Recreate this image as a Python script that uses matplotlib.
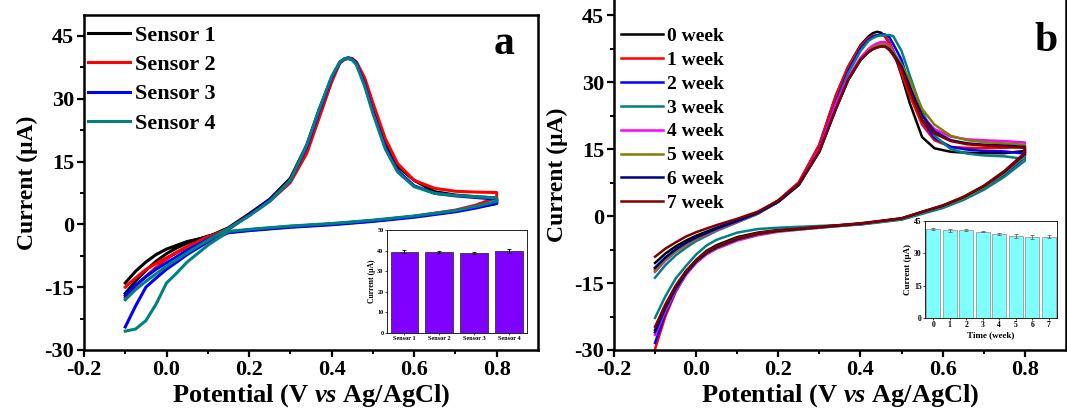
import matplotlib
matplotlib.use("Agg")
import matplotlib.pyplot as plt

plt.rcParams['font.family'] = ['Liberation Serif', 'DejaVu Serif']
plt.rcParams['font.weight'] = 'bold'
plt.rcParams['axes.unicode_minus'] = False
plt.rcParams['mathtext.fontset'] = 'custom'
plt.rcParams['mathtext.it'] = 'Liberation Serif:italic:bold'
plt.rcParams['mathtext.rm'] = 'Liberation Serif:bold'

# ---------------- panel a: CV of four sensors ----------------
va_fwd = [-0.1, -0.075, -0.05, -0.025, 0.0, 0.05, 0.1, 0.15, 0.2, 0.25, 0.3, 0.34,
          0.37, 0.40, 0.42, 0.43, 0.44, 0.45, 0.46, 0.48, 0.50, 0.53, 0.56, 0.60, 0.65,
          0.70, 0.75, 0.80]
va_rev = [0.8, 0.75, 0.7, 0.6, 0.5, 0.4, 0.3, 0.2, 0.15, 0.1, 0.05, 0.025, 0.0,
          -0.025, -0.05, -0.075, -0.1]

s1_fwd = [-14, -11.2, -9, -7.2, -5.9, -4.1, -3.0, -0.8, 2.5, 6, 11, 19, 27.5, 35, 38.7, 39.4,
          39.6, 39.3, 38.3, 33.5, 27.5, 19.5, 13.8, 10.5, 7.8, 7.0, 6.6, 6.3]
s1_rev = [5.0, 4.1, 3.2, 1.9, 0.9, 0.1, -0.5, -1.3, -1.8, -2.8, -4.5, -5.6, -7.0,
          -8.8, -11.0, -13.5, -16.5]
s2_fwd = [-15, -12.8, -10.8, -9.3, -8, -5.5, -3.1, -1.0, 2.2, 5.5, 10, 17, 25.5, 34, 38.5, 39.3,
          39.7, 39.6, 38.8, 35, 29, 20.5, 14.5, 10.5, 8.6, 7.9, 7.7, 7.6]
s2_rev = [6.5, 4.6, 3.4, 1.9, 0.8, 0.0, -0.6, -1.4, -1.9, -3.0, -5.3, -6.6, -8.3,
          -10.3, -12.4, -14.8, -17.5]
s3_fwd = [-17, -14.5, -12.5, -10.7, -9.2, -6.2, -3.6, -1.2, 2.2, 5.8, 10.5, 18.5, 27, 35, 38.7, 39.5,
          39.8, 39.5, 38.5, 33.5, 27, 18.5, 12.8, 9.2, 7.4, 6.8, 6.4, 6.0]
s3_rev = [5.0, 3.9, 3.0, 1.7, 0.7, -0.1, -0.7, -1.5, -2.0, -4.2, -7.2, -9.0, -10.7,
          -12.8, -15.0, -19.5, -24.5]
s4_fwd = [-18, -15.6, -13.6, -11.8, -10.0, -6.8, -3.8, -1.0, 2.0, 5.5, 10.5, 19, 27.5, 35.3, 38.8, 39.5,
          39.7, 39.3, 38.2, 33, 26.5, 18, 12.5, 9.0, 7.4, 6.9, 6.6, 6.3]
s4_rev = [5.5, 4.3, 3.3, 2.0, 1.0, 0.2, -0.4, -1.2, -1.7, -5.0, -9.0, -11.6, -14.0,
          -19.0, -23.0, -25.0, -25.5]

sensor_labels = ['Sensor 1', 'Sensor 2', 'Sensor 3', 'Sensor 4']
sensor_colors = ['black', '#ff0000', '#0000ff', '#008080']

# inset a
sensor_names = ['Sensor 1', 'Sensor 2', 'Sensor 3', 'Sensor 4']
sensor_peak = [39.5, 39.4, 39.0, 39.8]
sensor_err = [0.7, 0.6, 0.5, 0.8]

# ---------------- panel b: CV over eight weeks ----------------
vb_fwd = [-0.1, -0.075, -0.05, -0.025, 0.0, 0.05, 0.1, 0.15, 0.2, 0.25, 0.3, 0.34, 0.37,
          0.40, 0.42, 0.43, 0.44, 0.45, 0.46, 0.47, 0.48, 0.50, 0.52, 0.55, 0.58, 0.62,
          0.66, 0.70, 0.75, 0.80]
vb_rev = [0.8, 0.75, 0.7, 0.65, 0.6, 0.55, 0.5, 0.4, 0.3, 0.2, 0.15, 0.1, 0.05, 0.025,
          0.0, -0.025, -0.05, -0.075, -0.1]

w0_fwd = [-10.5, -8.4, -6.8, -5.5, -4.4, -2.6, -1.0, 0.8, 3.5, 7.5, 16, 27, 33.5, 38.3, 40.3, 41.0,
          41.3, 41.1, 40.2, 38.8, 37, 31.5, 25.3, 17.7, 15.2, 14.4, 14.2, 14.1, 14.1, 14.6]
w1_fwd = [-12.0, -9.6, -7.7, -6.2, -5.0, -3.0, -1.2, 0.7, 3.5, 7.6, 16, 27, 33.5, 38, 40, 40.4,
          40.5, 40.6, 40.3, 39.0, 37, 32, 27, 20.5, 17.0, 15.5, 15.3, 15.2, 15.3, 15.5]
w2_fwd = [-11.6, -9.3, -7.5, -6.0, -4.9, -2.9, -1.2, 0.6, 3.3, 7.2, 15, 25.5, 32.5, 37.5, 39.6, 40.2,
          40.5, 40.7, 40.7, 40.1, 38.5, 35, 29, 21.5, 17.5, 15.5, 14.9, 14.6, 14.5, 14.0]
w3_fwd = [-13.8, -11.0, -8.8, -7.1, -5.6, -3.3, -1.4, 0.5, 3.2, 7.0, 14.5, 25, 32, 37, 39.3, 39.9,
          40.3, 40.5, 40.5, 40.6, 40.3, 37, 31.5, 23.5, 18.0, 15.0, 14.0, 13.6, 13.4, 12.8]
w4_fwd = [-12.5, -10.0, -8.0, -6.5, -5.2, -3.1, -1.3, 0.6, 3.3, 7.2, 15, 25, 31, 35.5, 37.5, 38.2,
          38.7, 39.0, 39.0, 38.3, 37, 33, 28.5, 22.5, 19.5, 17.8, 17.2, 17.0, 16.8, 16.5]
w5_fwd = [-12.3, -9.8, -7.9, -6.4, -5.1, -3.0, -1.2, 0.6, 3.2, 7.0, 14.5, 24, 30.5, 35, 37, 37.7,
          38.2, 38.5, 38.5, 38.0, 36.8, 34, 30.5, 24, 20.5, 18.0, 17.0, 16.6, 16.3, 16.0]
w6_fwd = [-11.6, -9.3, -7.5, -6.0, -4.8, -2.8, -1.1, 0.7, 3.2, 7.0, 14.5, 24, 30.5, 35, 36.8, 37.4,
          37.8, 38.0, 38.0, 37.4, 36.3, 33.5, 29, 22.5, 19.0, 17.0, 16.3, 16.0, 15.8, 15.5]
w7_fwd = [-9.1, -7.3, -5.9, -4.6, -3.6, -2.0, -0.6, 1.0, 3.5, 7.2, 14.5, 24, 30.5, 35, 36.8, 37.4,
          37.8, 38.0, 38.0, 37.2, 36.0, 33, 28, 21.5, 18.5, 16.8, 16.1, 15.8, 15.6, 15.3]

w0_rev = [13.5, 9.6, 6.5, 4.0, 2.2, 0.8, -0.6, -1.7, -2.4, -3.1, -3.7, -4.7, -6.5, -7.8,
          -9.8, -12.5, -16.0, -20.5, -25.5]
w1_rev = [13.8, 9.8, 6.6, 4.1, 2.3, 0.9, -0.6, -1.7, -2.4, -3.2, -3.9, -5.0, -6.9, -8.2,
          -10.2, -13.0, -17.0, -22.5, -29.8]
w2_rev = [13.2, 9.3, 6.3, 3.9, 2.1, 0.7, -0.7, -1.8, -2.5, -3.3, -4.0, -5.1, -7.0, -8.3,
          -10.3, -13.0, -16.8, -21.8, -28.4]
w3_rev = [12.4, 8.8, 5.9, 3.6, 1.8, 0.5, -0.8, -1.9, -2.2, -2.6, -2.9, -3.7, -5.3, -6.6,
          -8.6, -11.2, -14.0, -18.0, -22.8]
w4_rev = [13.6, 9.7, 6.6, 4.1, 2.3, 0.9, -0.5, -1.8, -2.6, -3.5, -4.3, -5.5, -7.3, -8.6,
          -10.5, -13.2, -16.8, -21.3, -26.6]
w5_rev = [13.5, 9.6, 6.5, 4.0, 2.2, 0.8, -0.6, -1.8, -2.6, -3.4, -4.1, -5.3, -7.1, -8.4,
          -10.3, -12.9, -16.4, -20.8, -26.0]
w6_rev = [13.9, 9.9, 6.7, 4.2, 2.3, 0.9, -0.5, -1.7, -2.5, -3.3, -4.0, -5.2, -7.0, -8.3,
          -10.2, -12.8, -16.3, -20.6, -26.0]
w7_rev = [14.2, 10.1, 6.8, 4.3, 2.4, 1.0, -0.5, -1.6, -2.4, -3.2, -3.9, -5.0, -6.8, -8.0,
          -9.9, -12.3, -15.6, -19.8, -24.8]

week_labels = ['0 week', '1 week', '2 week', '3 week', '4 week', '5 week', '6 week', '7 week']
week_colors = ['black', '#ff0000', '#0000ff', '#008080', '#ff00ff', '#808000', '#000080', '#800000']

# inset b
weeks = [0, 1, 2, 3, 4, 5, 6, 7]
week_peak = [41.3, 40.6, 40.9, 40.1, 38.9, 38.1, 37.7, 37.6]
week_err = [0.4, 0.5, 0.4, 0.3, 0.5, 0.8, 0.9, 0.7]


def style_axis(ax, ymin, ymax):
    ax.set_xlim(-0.2, 0.9)
    ax.set_ylim(ymin, ymax)
    ax.set_xticks([-0.2, 0.0, 0.2, 0.4, 0.6, 0.8])
    ax.set_xticks([-0.1, 0.1, 0.3, 0.5, 0.7], minor=True)
    ax.set_yticks([-30, -15, 0, 15, 30, 45])
    ax.set_yticks([-22.5, -7.5, 7.5, 22.5, 37.5], minor=True)
    ax.tick_params(which='major', direction='out', length=5, width=1.6, labelsize=16, pad=2)
    ax.tick_params(which='minor', direction='out', length=3, width=1.4)
    for sp in ax.spines.values():
        sp.set_linewidth(1.8)
    for lab in ax.get_xticklabels() + ax.get_yticklabels():
        lab.set_fontweight('bold')
    ax.set_xlabel('Potential (V $\\it{vs}$ Ag/AgCl)', fontsize=19, fontweight='bold', labelpad=2)
    ax.set_ylabel('Current (\u03bcA)', fontsize=17, fontweight='bold', labelpad=5)


fig = plt.figure(figsize=(10.67, 4.16), dpi=100)

# ---- panel a ----
ax1 = fig.add_axes([0.0787, 0.1587, 0.4255, 0.8053])
fwd_a = [s1_fwd, s2_fwd, s3_fwd, s4_fwd]
rev_a = [s1_rev, s2_rev, s3_rev, s4_rev]
for f, r, c, lab in zip(fwd_a, rev_a, sensor_colors, sensor_labels):
    ax1.plot(va_fwd + va_rev, f + r, color=c, lw=2.2, label=lab)
style_axis(ax1, -30, 50)
ax1.legend(loc='upper left', bbox_to_anchor=(-0.02, 1.009), frameon=False, fontsize=16,
           handlelength=1.9, handletextpad=0.2, labelspacing=0.39, borderaxespad=0.2)
ax1.text(0.949, 0.913, 'a', transform=ax1.transAxes, fontsize=30, fontweight='bold',
         ha='right', va='center')

ins1 = fig.add_axes([0.3627, 0.1995, 0.1312, 0.2476])
ins1.bar(range(4), sensor_peak, width=0.8, color='#7f00ff', edgecolor='#333333', linewidth=0.6,
         yerr=sensor_err, error_kw=dict(ecolor='black', elinewidth=0.6, capsize=1.5, capthick=0.6))
ins1.set_xlim(-0.5, 3.5)
ins1.set_ylim(0, 50)
ins1.set_yticks([0, 10, 20, 30, 40, 50])
ins1.set_xticks(range(4))
ins1.set_xticklabels(sensor_names)
ins1.tick_params(labelsize=4.5, length=1.5, width=0.5, pad=1)
ins1.set_ylabel('Current (\u03bcA)', fontsize=5.5, fontweight='bold', labelpad=1)
for sp in ins1.spines.values():
    sp.set_linewidth(0.6)

# ---- panel b ----
ax2 = fig.add_axes([0.5754, 0.1587, 0.4236, 0.841])
fwd_b = [w0_fwd, w1_fwd, w2_fwd, w3_fwd, w4_fwd, w5_fwd, w6_fwd, w7_fwd]
rev_b = [w0_rev, w1_rev, w2_rev, w3_rev, w4_rev, w5_rev, w6_rev, w7_rev]
for f, r, c, lab in zip(fwd_b, rev_b, week_colors, week_labels):
    ax2.plot(vb_fwd + vb_rev, f + r, color=c, lw=1.8, label=lab)
style_axis(ax2, -30, 48.4)
ax2.spines['top'].set_visible(False)
ax2.legend(loc='upper left', bbox_to_anchor=(-0.01, 0.955), frameon=False, fontsize=14,
           handlelength=2.15, handletextpad=0.2, labelspacing=0.32, borderaxespad=0.2)
ax2.text(0.982, 0.884, 'b', transform=ax2.transAxes, fontsize=30, fontweight='bold',
         ha='right', va='center')

ins2 = fig.add_axes([0.8669, 0.2356, 0.1237, 0.2332])
ins2.bar(weeks, week_peak, width=0.85, color='#80ffff', edgecolor='#999999', linewidth=0.6,
         yerr=week_err, error_kw=dict(ecolor='#666666', elinewidth=0.6, capsize=1.2, capthick=0.6))
ins2.set_xlim(-0.5, 7.5)
ins2.set_ylim(0, 45)
ins2.set_yticks([0, 15, 30, 45])
ins2.set_xticks(weeks)
ins2.tick_params(labelsize=5.5, length=1.5, width=0.5, pad=1)
ins2.set_xlabel('Time (week)', fontsize=6.5, fontweight='bold', labelpad=1)
ins2.set_ylabel('Current (\u03bcA)', fontsize=6.5, fontweight='bold', labelpad=1)
for sp in ins2.spines.values():
    sp.set_linewidth(0.6)

fig.savefig('out.png', dpi=100)
